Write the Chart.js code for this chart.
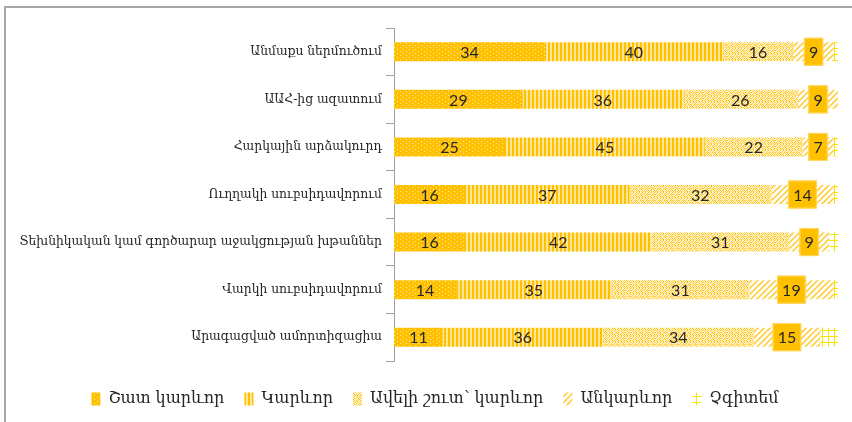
<!DOCTYPE html>
<html>
<head>
    <title>Importance chart</title>
    <script src="https://cdn.jsdelivr.net/npm/chart.js"></script>
    <style>
        html, body { margin: 0; padding: 0; background: #fff; }
        #wrap { width: 852px; height: 422px; }
    </style>
    <script>
        const categories = [
            'Անմաքս ներմուծում',
            'ԱԱՀ-ից ազատում',
            'Հարկային արձակուրդ',
            'Ուղղակի սուբսիդավորում',
            'Տեխնիկական կամ գործարար աջակցության խթաններ',
            'Վարկի սուբսիդավորում',
            'Արագացված ամորտիզացիա'
        ];
        const seriesNames = ['Շատ կարևոր', 'Կարևոր', 'Ավելի շուտ՝ կարևոր', 'Անկարևոր', 'Չգիտեմ'];
        const veryImportant   = [34, 29, 25, 16, 16, 14, 11];
        const important       = [40, 36, 45, 37, 42, 35, 36];
        const ratherImportant = [16, 26, 22, 32, 31, 31, 34];
        const notImportant    = [9, 9, 7, 14, 9, 19, 15];
        const dontKnow        = [1, 0, 1, 1, 2, 1, 4];

        // small canvas tiles used as fill patterns
        function makePattern(w, h, draw) {
            const c = document.createElement('canvas');
            c.width = w; c.height = h;
            const g = c.getContext('2d');
            draw(g);
            return g.createPattern(c, 'repeat');
        }

        function buildPatterns() {
            const dots = makePattern(6, 4, g => {
                g.fillStyle = '#FFC000'; g.fillRect(0, 0, 6, 4);
                g.fillStyle = '#FFE9A6';
                g.fillRect(1, 1, 1, 1); g.fillRect(4, 3, 1, 1);
            });
            const stripes = makePattern(4, 4, g => {
                g.fillStyle = '#FFE699'; g.fillRect(0, 0, 4, 4);
                g.fillStyle = '#FFC000'; g.fillRect(0, 0, 2, 4);
            });
            const confetti = makePattern(6, 6, g => {
                g.fillStyle = '#FFF2CC'; g.fillRect(0, 0, 6, 6);
                g.fillStyle = '#FFC000';
                [[0,0],[3,0],[1,2],[4,2],[5,3],[0,4],[2,4],[3,5]].forEach(p => g.fillRect(p[0], p[1], 1, 1));
                g.fillStyle = '#FFD44D';
                [[2,1],[5,1],[3,3],[1,5],[5,5],[0,2]].forEach(p => g.fillRect(p[0], p[1], 1, 1));
            });
            const hatch = makePattern(6, 6, g => {
                g.fillStyle = '#FFFFFF'; g.fillRect(0, 0, 6, 6);
                g.strokeStyle = '#FFCF40'; g.lineWidth = 1.6;
                g.beginPath();
                g.moveTo(-1, 7); g.lineTo(7, -1);
                g.moveTo(-1, 1); g.lineTo(1, -1);
                g.moveTo(5, 7); g.lineTo(7, 5);
                g.stroke();
            });
            const grid = makePattern(6, 6, g => {
                g.fillStyle = '#FFFFFF'; g.fillRect(0, 0, 6, 6);
                g.fillStyle = '#F5E300';
                g.fillRect(0, 0, 6, 1); g.fillRect(0, 0, 1, 6);
            });
            return [dots, stripes, confetti, hatch, grid];
        }

        // frame lines on top and left of the picture
        const framePlugin = {
            id: 'frame',
            beforeDraw(chart) {
                const ctx = chart.ctx;
                ctx.save();
                ctx.strokeStyle = '#A6A6A6';
                ctx.lineWidth = 2;
                ctx.beginPath();
                ctx.moveTo(5, chart.height);
                ctx.lineTo(5, 7);
                ctx.lineTo(chart.width, 7);
                ctx.stroke();
                ctx.restore();
            }
        };

        // nudge the legend a bit to the right, like the original
        const legendShift = {
            id: 'legendShift',
            afterLayout(chart) {
                if (chart.legend) {
                    chart.legend.left += 16;
                    chart.legend.right += 16;
                }
            }
        };

        // value labels in the middle of each segment, boxed for the 4th series
        const labelPlugin = {
            id: 'segLabels',
            afterDatasetsDraw(chart) {
                const ctx = chart.ctx;
                ctx.save();
                ctx.font = '16px Lato, "Open Sans", sans-serif';
                ctx.textAlign = 'center';
                ctx.textBaseline = 'middle';
                for (let d = 0; d < 4; d++) {
                    const meta = chart.getDatasetMeta(d);
                    meta.data.forEach((bar, i) => {
                        const v = chart.data.datasets[d].data[i];
                        if (!v) return;
                        const p = bar.getProps(['x', 'y', 'base'], true);
                        const cx = (p.x + p.base) / 2;
                        const txt = String(v);
                        if (d === 3) {
                            const w = ctx.measureText(txt).width + 10;
                            ctx.fillStyle = '#FFC000';
                            ctx.fillRect(cx - w / 2, p.y - 14, w, 28);
                            ctx.strokeStyle = '#FFD966';
                            ctx.lineWidth = 1;
                            ctx.strokeRect(cx - w / 2 + 0.5, p.y - 13.5, w - 1, 27);
                        }
                        ctx.fillStyle = '#262626';
                        ctx.fillText(txt, cx, p.y + 1);
                    });
                }
                ctx.restore();
            }
        };

        window.onload = function() {
            const pats = buildPatterns();
            const values = [veryImportant, important, ratherImportant, notImportant, dontKnow];
            const ctx = document.getElementById('myChart').getContext('2d');
            new Chart(ctx, {
                type: 'bar',
                data: {
                    labels: categories,
                    datasets: values.map((arr, k) => ({
                        label: seriesNames[k],
                        data: arr,
                        backgroundColor: pats[k],
                        borderWidth: 0,
                        categoryPercentage: 1,
                        barPercentage: 0.4
                    }))
                },
                options: {
                    indexAxis: 'y',
                    responsive: false,
                    animation: false,
                    layout: { padding: { top: 28, right: 14, bottom: 5, left: 0 } },
                    scales: {
                        x: {
                            stacked: true, min: 0, max: 100,
                            // invisible axis, only keeps a gap above the legend
                            afterFit(scale) { scale.height = 10; },
                            ticks: { display: false },
                            grid: { display: false },
                            border: { display: false }
                        },
                        y: {
                            stacked: true,
                            afterFit(scale) { scale.width = 394; },
                            border: { color: '#A0A0A0', width: 1 },
                            grid: { drawOnChartArea: false, tickLength: 8, color: '#A0A0A0' },
                            ticks: {
                                padding: 4,
                                color: '#262626',
                                font: { family: '"DejaVu Serif"', size: 12.3 }
                            }
                        }
                    },
                    plugins: {
                        tooltip: { enabled: false },
                        legend: {
                            position: 'bottom',
                            labels: {
                                boxWidth: 9,
                                boxHeight: 13,
                                padding: 20,
                                color: '#262626',
                                font: { family: '"DejaVu Serif"', size: 16 }
                            }
                        }
                    }
                },
                plugins: [framePlugin, legendShift, labelPlugin]
            });
        }
    </script>
</head>
<body>
    <div id="wrap">
        <canvas id="myChart" width="852" height="422"></canvas>
    </div>
</body>
</html>
